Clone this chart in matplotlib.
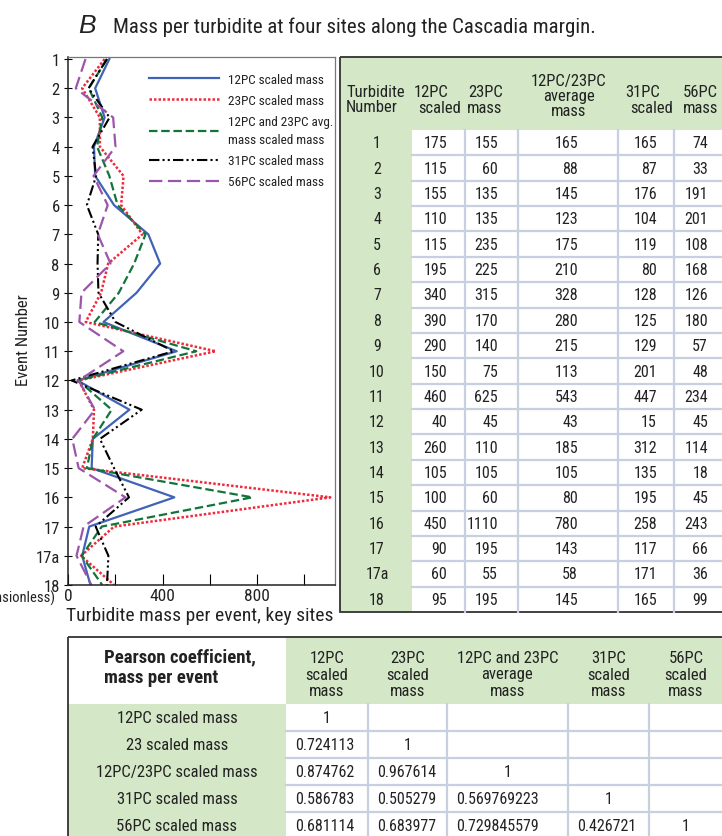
import matplotlib.pyplot as plt
from matplotlib.patches import Rectangle

plt.rcParams['font.family'] = ['Roboto Condensed', 'DejaVu Sans']
plt.rcParams['font.stretch'] = 'condensed'

events = ['1', '2', '3', '4', '5', '6', '7', '8', '9', '10', '11', '12', '13',
          '14', '15', '16', '17', '17a', '18']
pc12 = [175, 115, 155, 110, 115, 195, 340, 390, 290, 150, 460, 40, 260, 105, 100, 450, 90, 60, 95]
pc23 = [155, 60, 135, 135, 235, 225, 315, 170, 140, 75, 625, 45, 110, 105, 60, 1110, 195, 55, 195]
avg1223 = [165, 88, 145, 123, 175, 210, 328, 280, 215, 113, 543, 43, 185, 105, 80, 780, 143, 58, 145]
pc31 = [165, 87, 176, 104, 119, 80, 128, 125, 129, 201, 447, 15, 312, 135, 195, 258, 117, 171, 165]
pc56 = [74, 33, 191, 201, 108, 168, 126, 180, 57, 48, 234, 45, 114, 18, 45, 243, 66, 36, 99]

series_labels = ['12PC scaled mass', '23PC scaled mass', '12PC and 23PC avg.\nmass scaled mass',
                 '31PC scaled mass', '56PC scaled mass']

corr_rows = ['12PC scaled mass', '23 scaled mass', '12PC/23PC scaled mass',
             '31PC scaled mass', '56PC scaled mass']
corr_cols = ['12PC\nscaled\nmass', '23PC\nscaled\nmass', '12PC and 23PC\naverage\nmass',
             '31PC\nscaled\nmass', '56PC\nscaled\nmass']
corr_vals = [['1'],
             ['0.724113', '1'],
             ['0.874762', '0.967614', '1'],
             ['0.586783', '0.505279', '0.569769223', '1'],
             ['0.681114', '0.683977', '0.729845579', '0.426721', '1']]

W, H = 722, 837
green = '#d4e8c8'
gridc = '#c8cfe0'
txt = '#222222'

fig = plt.figure(figsize=(W/100, H/100), dpi=100)
ov = fig.add_axes([0, 0, 1, 1])
ov.set_xlim(0, W)
ov.set_ylim(H, 0)
ov.axis('off')

# ---- line plot
L, R, T, B = 68, 335, 58, 586
ax = fig.add_axes([L/W, 1-B/H, (R-L)/W, (B-T)/H])
y = list(range(len(events)))
styles = [dict(color='#4163b5', ls='-', lw=1.6),
          dict(color='#f02a3c', ls=(0, (1, 0.8)), lw=1.8),
          dict(color='#13743a', ls=(0, (3.8, 1.7)), lw=1.6),
          dict(color='black', ls=(0, (5, 1.5, 1, 1.5, 1, 1.5)), lw=1.5),
          dict(color='#9b55aa', ls=(0, (6, 2.5)), lw=1.6)]
handles = []
for vals, st, lab in zip([pc12, pc23, avg1223, pc31, pc56], styles, series_labels):
    h, = ax.plot(vals, y, label=lab, **st)
    handles.append(h)
ax.set_ylim(18, -0.07)
ax.set_xlim(0, 1130)
ax.set_yticks(y)
ax.set_yticklabels(events, fontsize=12, color=txt)
ax.set_xticks([0, 200, 400, 600, 800, 1000])
ax.set_xticklabels(['0', '', '400', '', '800', ''], fontsize=12.5, color=txt)
ax.tick_params(axis='x', direction='in', length=8, pad=2)
ax.tick_params(axis='y', direction='inout', length=6, pad=3)
for s in ['top', 'right']:
    ax.spines[s].set_color('#777777')
    ax.spines[s].set_linewidth(0.9)
for s in ['left', 'bottom']:
    ax.spines[s].set_color('#222222')
    ax.spines[s].set_linewidth(1.1)

leg = ax.legend(handles=handles, loc='upper left', bbox_to_anchor=(142/W, 1-67/H),
                bbox_transform=fig.transFigure, frameon=False, fontsize=9.5,
                handlelength=5.3, handletextpad=0.75, labelspacing=0.62, borderpad=0)
for t in leg.get_texts():
    t.set_color(txt)
    t.set_linespacing(1.5)

# axis labels / title
ov.text(24, 340, 'Event Number', rotation=90, ha='center', va='center', fontsize=12, color=txt)
ov.text(55, 598, '(dimensionless)', ha='right', va='center', fontsize=10.5, color=txt)
ov.text(200, 616, 'Turbidite mass per event, key sites', ha='center', va='center',
        fontsize=14, color=txt)
ov.text(78, 33, 'B', fontsize=19, style='italic', family=['Liberation Sans', 'DejaVu Sans'],
        color=txt, va='baseline')
ov.text(113, 33, 'Mass per turbidite at four sites along the Cascadia margin.',
        fontsize=15, color=txt, va='baseline')

# ---- upper table
tx0, ty0, ty1 = 340, 58, 613
hdr_b = 131
col_edges = [412, 465, 518, 618, 674, 723]
ov.add_patch(Rectangle((tx0, ty0), W+2-tx0, hdr_b-ty0, fc=green, ec='none'))
ov.add_patch(Rectangle((tx0, hdr_b), col_edges[0]-tx0, ty1-hdr_b, fc=green, ec='none'))
rh = (ty1 - hdr_b) / len(events)
for i in range(1, len(events)):
    ov.plot([col_edges[0], W], [hdr_b + i*rh]*2, color=gridc, lw=1.6)
for xe in col_edges[1:-1]:
    ov.plot([xe, xe], [hdr_b, ty1], color=gridc, lw=1.6)
ov.add_patch(Rectangle((tx0, ty0), W+5-tx0, ty1-ty0, fc='none', ec='#333333', lw=1.3))

hf = 12
ov.text(346, 100, 'Turbidite\nNumber', ha='left', va='center', fontsize=hf, color=txt, linespacing=1.05)
ov.text(431, 92, '12PC', ha='center', va='center', fontsize=hf, color=txt)
ov.text(486, 92, '23PC', ha='center', va='center', fontsize=hf, color=txt)
ov.text(440, 108, 'scaled', ha='center', va='center', fontsize=hf, color=txt)
ov.text(485, 108, 'mass', ha='center', va='center', fontsize=hf, color=txt)
ov.text(569, 96, '12PC/23PC\naverage\nmass', ha='center', va='center', fontsize=hf, color=txt,
        linespacing=1.0)
ov.text(643, 92, '31PC', ha='center', va='center', fontsize=hf, color=txt)
ov.text(700, 92, '56PC', ha='center', va='center', fontsize=hf, color=txt)
ov.text(652, 108, 'scaled', ha='center', va='center', fontsize=hf, color=txt)
ov.text(701, 108, 'mass', ha='center', va='center', fontsize=hf, color=txt)

right_x = [447, 498, 578, 657, 708]
for i, ev in enumerate(events):
    yc = hdr_b + (i + 0.5) * rh
    ov.text(377, yc, ev, ha='center', va='center', fontsize=11.5, color=txt)
    for xr, col in zip(right_x, [pc12, pc23, avg1223, pc31, pc56]):
        ov.text(xr, yc, str(col[i]), ha='right', va='center', fontsize=11.5, color=txt)

# ---- lower table (Pearson)
bx0, by0, bhdr = 68, 638, 705
bcols = [286, 368, 447, 568, 649, 723]
brh = 27
ov.add_patch(Rectangle((bcols[0], by0), W+2-bcols[0], bhdr-by0, fc=green, ec='none'))
ov.add_patch(Rectangle((bx0, bhdr), bcols[0]-bx0, H-bhdr+2, fc=green, ec='none'))
for i in range(1, len(corr_rows)):
    ov.plot([bcols[0], W], [bhdr + i*brh]*2, color=gridc, lw=1.6)
for xe in bcols[1:-1]:
    ov.plot([xe, xe], [bhdr, H], color=gridc, lw=1.6)
ov.add_patch(Rectangle((bx0, by0), W+5-bx0, H+5-by0, fc='none', ec='#333333', lw=1.3))

ov.text(104, 668, 'Pearson coefficient,\nmass per event', ha='left', va='center',
        fontsize=13.5, fontweight='bold', color=txt, linespacing=1.2)
for j, lab in enumerate(corr_cols):
    xc = (bcols[j] + bcols[j+1]) / 2
    ov.text(xc, 675, lab, ha='center', va='center', fontsize=12, color=txt, linespacing=1.1)
for i, lab in enumerate(corr_rows):
    yc = bhdr + (i + 0.5) * brh
    ov.text(177, yc, lab, ha='center', va='center', fontsize=12, color=txt)
    for j, v in enumerate(corr_vals[i]):
        if v == '1':
            ov.text((bcols[j] + bcols[j+1]) / 2, yc, v, ha='center', va='center', fontsize=11.5, color=txt)
        else:
            ov.text(bcols[j] + 9, yc, v, ha='left', va='center', fontsize=11.5, color=txt)

fig.savefig('out.png', dpi=100)
